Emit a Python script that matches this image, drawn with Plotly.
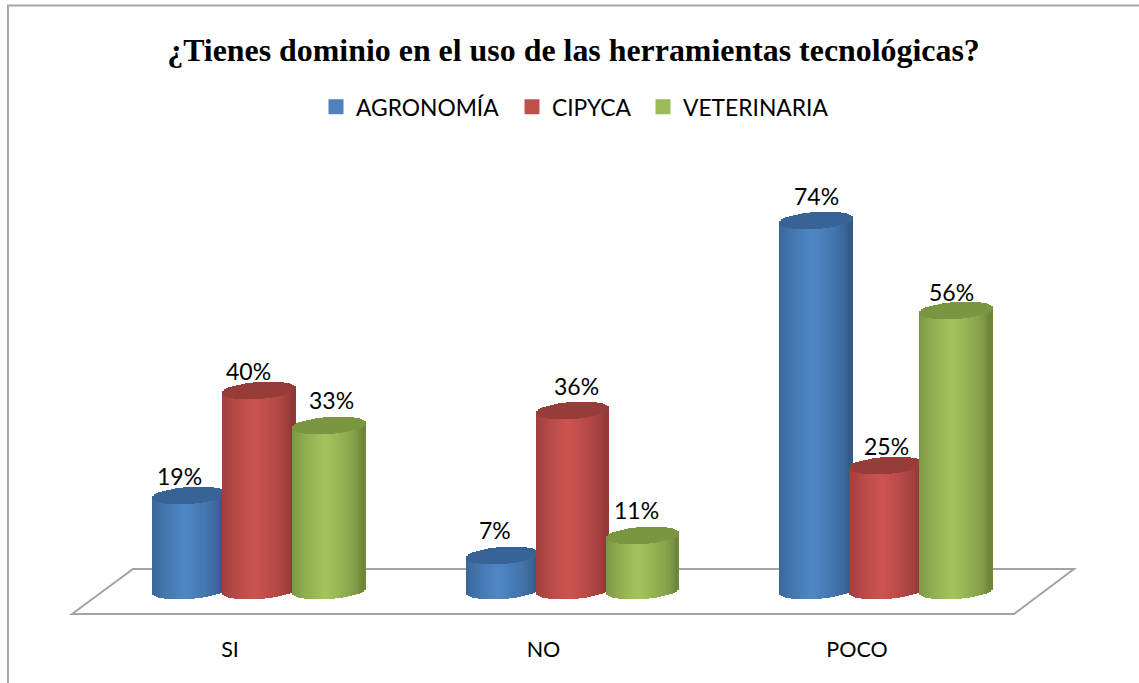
import numpy as np
import plotly.graph_objects as go

categories = ["SI", "NO", "POCO"]
series_names = ["AGRONOMÍA", "CIPYCA", "VETERINARIA"]
agronomia = [19, 7, 74]
cipyca = [40, 36, 25]
veterinaria = [33, 11, 56]
series_values = [agronomia, cipyca, veterinaria]

# label nudges in pixels, one row per series
label_dx = [[-10, -8, 0], [-11, 4, 0], [2, -6, -5]]
label_dy = [[20, 26, 25], [20, 25, 20], [26, 26, 19]]

main_colors = ["#4f81bd", "#c0504d", "#9bbb59"]
dark_colors = ["#345a88", "#8f3836", "#6f873b"]
light_colors = ["#4f87c6", "#cd5451", "#a5c45d"]
cap_colors = ["#376396", "#983c3a", "#7b9641"]

WIDTH, HEIGHT = 1139, 683
AXIS_BOTTOM = 632
PX_PER_UNIT_X = 313.5
PX_PER_PCT = 5.0
ZERO_PX = 590.5
CENTER_0_PX = 259
TICK_SHIFT_PX = -29  # the 3d floor leaves the labels left of the cylinders

half_w = 36.5 / PX_PER_UNIT_X
minor = 8.5 / PX_PER_PCT
tilt = 2.5 / PX_PER_PCT
offsets = [-70 / PX_PER_UNIT_X, 0, 70 / PX_PER_UNIT_X]
n_strips = 36
legend_ids = ["legend", "legend2", "legend3"]
legend_left = [316, 512, 643]


def mix(c1, c2, t):
    a = [int(c1[i:i + 2], 16) for i in (1, 3, 5)]
    b = [int(c2[i:i + 2], 16) for i in (1, 3, 5)]
    return "rgb(%d,%d,%d)" % tuple(a[k] + (b[k] - a[k]) * t for k in range(3))


def cylinder_strips(center, value, dark, light, cap):
    """vertical strips of one cylinder, side first and then the top ellipse"""
    edges = np.linspace(-1, 1, n_strips + 1)
    mids = (edges[:-1] + edges[1:]) / 2
    curve = minor * np.sqrt(1 - mids ** 2)
    slope = tilt * mids
    side_base = slope - curve
    side_top = value + slope - curve
    cap_top = value + slope + curve
    x = center + mids * half_w
    shade = np.clip(1 - np.abs(mids + 0.1) / 1.0, 0, 1) ** 0.6
    side_colors = [mix(dark, light, t) for t in shade]
    w = 2 * half_w / n_strips * 1.25
    return (
        list(x) + list(x),
        list(side_base) + list(side_top),
        list(side_top - side_base) + list(cap_top - side_top),
        side_colors + [cap] * n_strips,
        [w] * (2 * n_strips),
    )


def px_x(p):
    return p / WIDTH


def px_y(p):
    return (AXIS_BOTTOM - p) / AXIS_BOTTOM


fig = go.Figure()

# plain bars carry the values and the legend, the strips sit on top of them
for s, name in enumerate(series_names):
    fig.add_trace(go.Bar(
        x=[i + offsets[s] for i in range(len(categories))],
        y=series_values[s],
        width=half_w,
        name=name,
        legend=legend_ids[s],
        marker=dict(color=main_colors[s], line=dict(color=main_colors[s], width=3)),
    ))
    xs, bases, heights, colors, widths = [], [], [], [], []
    for i, value in enumerate(series_values[s]):
        parts = cylinder_strips(i + offsets[s], value, dark_colors[s],
                                light_colors[s], cap_colors[s])
        xs += parts[0]
        bases += parts[1]
        heights += parts[2]
        colors += parts[3]
        widths += parts[4]
    fig.add_trace(go.Bar(
        x=xs, y=heights, base=bases, width=widths,
        marker=dict(color=colors, line=dict(width=0)),
        showlegend=False, hoverinfo="skip",
    ))

# data labels
for s in range(len(series_names)):
    for i, value in enumerate(series_values[s]):
        fig.add_annotation(
            x=i + offsets[s], y=value, text="%d%%" % value, showarrow=False,
            xshift=label_dx[s][i], yshift=label_dy[s][i],
            font=dict(family="Lato", size=23, color="#000000"),
        )

# floor of the 3d chart
floor = [(72, 614), (133, 569), (1074, 569), (1014, 614)]
path = "M" + " L".join("%.4f %.4f" % (px_x(a), px_y(b)) for a, b in floor) + " Z"
fig.add_shape(type="path", path=path, xref="paper", yref="paper", layer="below",
              line=dict(color="#a3a3a3", width=2), fillcolor="#ffffff")

# chart border, only the top and left edges are inside the picture
border = [(8, 700), (8, 5.5), (1145, 5.5)]
path = "M" + " L".join("%.4f %.4f" % (px_x(a), px_y(b)) for a, b in border)
fig.add_shape(type="path", path=path, xref="paper", yref="paper", layer="below",
              line=dict(color="#a6a6a6", width=2))

fig.update_layout(
    width=WIDTH,
    height=HEIGHT,
    autosize=False,
    margin=dict(l=0, r=0, t=0, b=HEIGHT - AXIS_BOTTOM),
    paper_bgcolor="#ffffff",
    plot_bgcolor="#ffffff",
    barmode="overlay",
    bargap=0,
    title=dict(
        text="<b>¿Tienes dominio en el uso de las herramientas tecnológicas?</b>",
        x=(170 + 977) / 2 / WIDTH, xanchor="center",
        y=1 - 50 / HEIGHT, yanchor="middle",
        font=dict(family="Liberation Serif", size=31.9, color="#000000"),
    ),
    font=dict(family="Lato"),
)
for s, legend_id in enumerate(legend_ids):
    fig.update_layout({legend_id: dict(
        orientation="h",
        x=legend_left[s] / WIDTH, xanchor="left",
        y=px_y(107), yanchor="middle",
        font=dict(family="Lato", size=22.8, color="#000000"),
        bgcolor="rgba(0,0,0,0)",
    )})
fig.update_xaxes(
    range=[-CENTER_0_PX / PX_PER_UNIT_X, (WIDTH - CENTER_0_PX) / PX_PER_UNIT_X],
    tickvals=[i + TICK_SHIFT_PX / PX_PER_UNIT_X for i in range(len(categories))],
    ticktext=categories,
    tickfont=dict(family="Lato", size=21.5, color="#000000"),
    ticks="", ticklabelstandoff=2, showgrid=False, zeroline=False, showline=False,
)
fig.update_yaxes(
    range=[(ZERO_PX - AXIS_BOTTOM) / PX_PER_PCT, ZERO_PX / PX_PER_PCT],
    visible=False, showgrid=False, zeroline=False,
)

fig.write_html("out.html", config=dict(displayModeBar=False),
               post_script="document.body.style.margin='0';")
